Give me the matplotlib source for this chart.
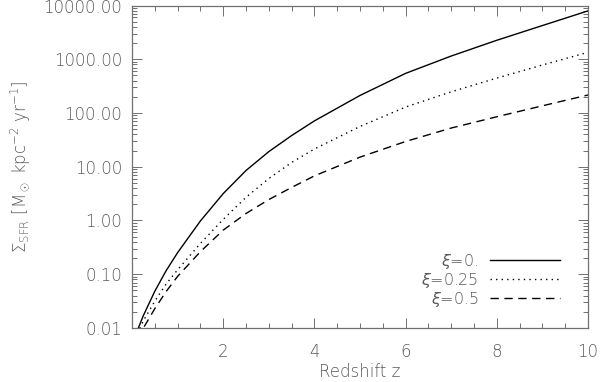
import matplotlib
matplotlib.use("Agg")
import matplotlib.pyplot as plt
from matplotlib.ticker import MultipleLocator, LogLocator, FormatStrFormatter, NullFormatter, FuncFormatter

# redshift grid and surface SFR density
z = [0.12, 0.25, 0.5, 0.75, 1.0, 1.5, 2.0, 2.5, 3.0, 3.5, 4.0, 5.0, 6.0, 7.0, 8.0, 9.0, 10.0]
sfr_xi0 = [0.0091, 0.0171, 0.0483, 0.117, 0.252, 0.98, 3.16, 8.51, 19.1, 38.0, 71.3,
           212, 546, 1148, 2254, 4236, 7943]
sfr_xi025 = [0.0079, 0.0137, 0.0315, 0.0661, 0.121, 0.374, 1.05, 2.70, 6.03, 12.0, 21.4,
             56.2, 129, 248, 446, 782, 1343]
sfr_xi05 = [0.0063, 0.0100, 0.0229, 0.0479, 0.0912, 0.263, 0.661, 1.35, 2.45, 4.12, 6.76,
            15.1, 29.5, 52.5, 85.1, 136, 216]

labels = [r"$\xi$=0.", r"$\xi$=0.25", r"$\xi$=0.5"]

TXT = "#5a5a5a"
AX = "#707070"
FS = 12

plt.rcParams["font.family"] = ["DejaVu Sans"]
plt.rcParams["font.weight"] = "light"
plt.rcParams["axes.labelweight"] = "light"
plt.rcParams["mathtext.fontset"] = "custom"
plt.rcParams["mathtext.rm"] = "DejaVu Sans:light"
plt.rcParams["mathtext.it"] = "DejaVu Sans:italic:light"
plt.rcParams["mathtext.bf"] = "DejaVu Sans:light"

fig = plt.figure(figsize=(6, 3.82), dpi=100)
ax = fig.add_axes([0.22, 0.1414, 0.76, 0.8442])

ax.plot(z, sfr_xi0, color="black", lw=1.0, ls="-", label=labels[0])
ax.plot(z, sfr_xi025, color="black", lw=1.0, ls=(0, (1, 3)), label=labels[1])
ax.plot(z, sfr_xi05, color="black", lw=1.0, ls=(0, (6, 4)), label=labels[2])

ax.set_yscale("log")
ax.set_xlim(0, 10)
ax.set_ylim(0.01, 10000)

ax.xaxis.set_major_locator(MultipleLocator(2))
ax.xaxis.set_minor_locator(MultipleLocator(0.5))
ax.xaxis.set_major_formatter(FuncFormatter(lambda v, p: "" if v == 0 else "%d" % v))
ax.yaxis.set_major_locator(LogLocator(base=10, numticks=10))
ax.yaxis.set_minor_locator(LogLocator(base=10, subs=range(2, 10), numticks=20))
ax.yaxis.set_major_formatter(FormatStrFormatter("%.2f"))
ax.yaxis.set_minor_formatter(NullFormatter())

for s in ax.spines.values():
    s.set_color(AX)
    s.set_linewidth(0.9)

ax.tick_params(which="both", direction="in", top=True, right=True, colors=AX, width=0.7)
ax.tick_params(which="major", length=7)
ax.tick_params(which="minor", length=3.5)
ax.tick_params(axis="x", which="major", pad=11, labelsize=FS, labelcolor=TXT)
ax.tick_params(axis="y", which="major", pad=7, labelsize=FS, labelcolor=TXT)

ax.set_xlabel("Redshift z", fontsize=FS, color=TXT, labelpad=1, fontweight="light")
ax.set_ylabel(r"$\Sigma_{\rm SFR}$ [M$_\odot$ kpc$^{-2}$ yr$^{-1}$]", fontsize=FS, color=TXT,
              labelpad=8, fontweight="light")

leg = ax.legend(loc="lower right", bbox_to_anchor=(0.9386, 0.06), frameon=False,
                markerfirst=False, prop={"size": 11.5, "weight": "light"}, labelspacing=0.0,
                handlelength=4.4, handletextpad=0.7, borderpad=0, borderaxespad=0)
for t in leg.get_texts():
    t.set_color(TXT)

fig.savefig("out.png", dpi=100)
